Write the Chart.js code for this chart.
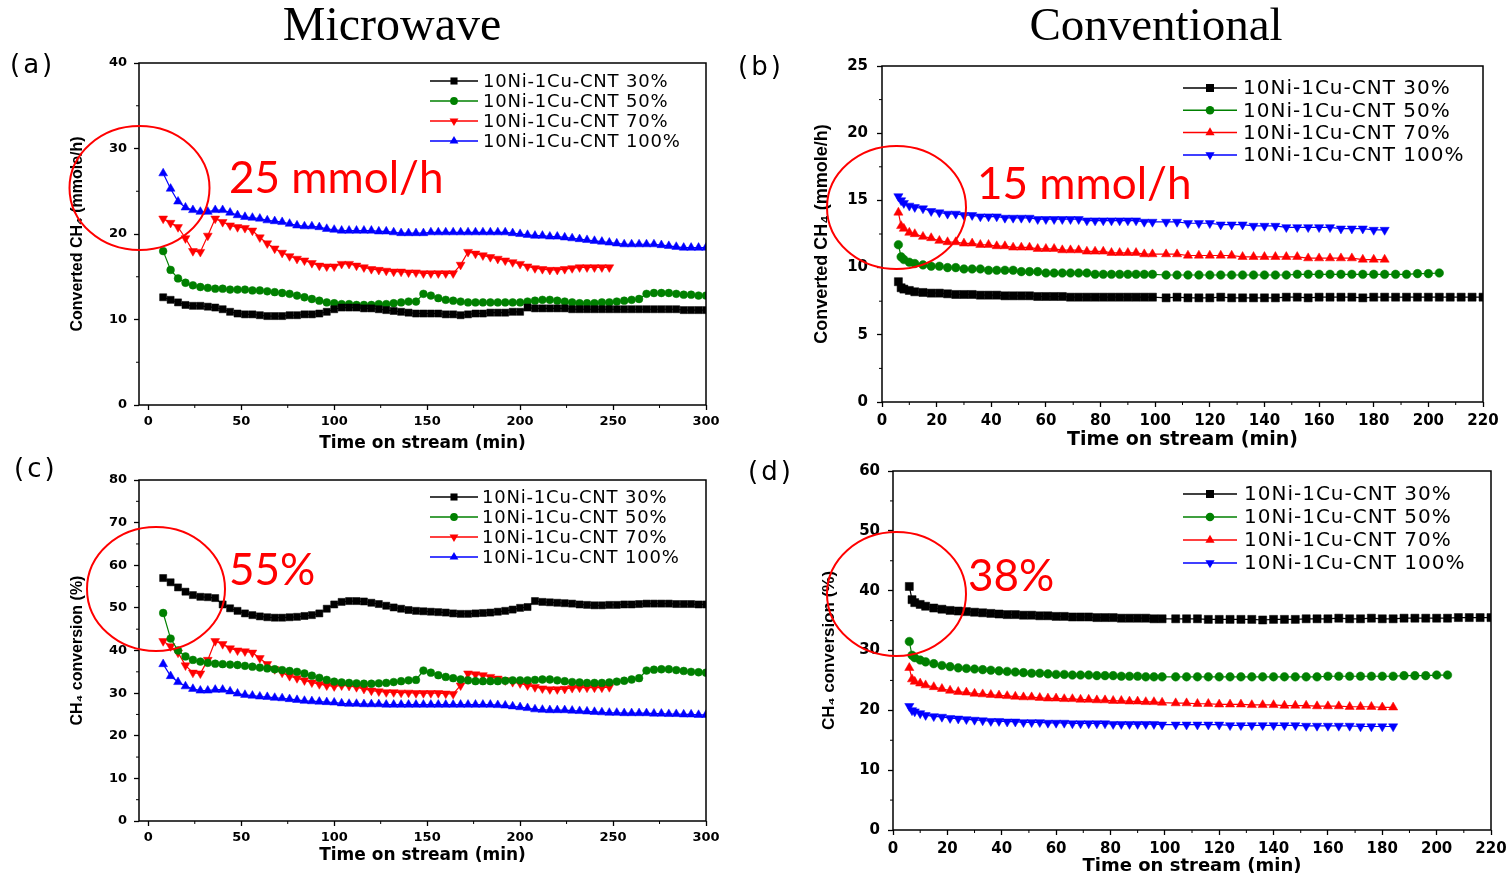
<!DOCTYPE html>
<html>
<head>
<meta charset="utf-8">
<title>CH4 conversion — microwave vs conventional</title>
<script src="https://cdn.jsdelivr.net/npm/chart.js@4.4.1/dist/chart.umd.min.js"></script>
<style>
  html, body { margin: 0; padding: 0; background: #fff; overflow: hidden; }
  #page { position: relative; width: 1506px; height: 878px; overflow: hidden; }
  canvas { position: absolute; }
  #overlay { position: absolute; left: 0; top: 0; pointer-events: none; }
</style>
</head>
<body>
<div id="page">
  <canvas id="chartA"></canvas>
  <canvas id="chartB"></canvas>
  <canvas id="chartC"></canvas>
  <canvas id="chartD"></canvas>
  <svg id="overlay" width="1506" height="878" xmlns="http://www.w3.org/2000/svg">
    <text x="392" y="40" font-family="Liberation Serif" font-size="48" text-anchor="middle">Microwave</text>
    <text x="1156" y="40" font-family="Liberation Serif" font-size="47" text-anchor="middle">Conventional</text>
    <text x="10" y="73" font-family="DejaVu Sans" font-size="26" letter-spacing="3">(a)</text>
    <text x="738" y="75" font-family="DejaVu Sans" font-size="26" letter-spacing="3">(b)</text>
    <text x="14" y="477" font-family="DejaVu Sans" font-size="26" letter-spacing="3">(c)</text>
    <text x="748" y="480" font-family="DejaVu Sans" font-size="26" letter-spacing="3">(d)</text>
    <g fill="none" stroke="#ff0000" stroke-width="2">
      <ellipse cx="139.5" cy="188" rx="70" ry="62"/>
      <ellipse cx="896.5" cy="207.5" rx="69.5" ry="61.5"/>
      <ellipse cx="156" cy="589" rx="69" ry="62"/>
      <ellipse cx="896.5" cy="594" rx="69.5" ry="62"/>
    </g>
    <g fill="#ff0000" font-family="Lato" font-size="44">
      <text x="229" y="193">25 mmol/h</text>
      <text x="977" y="199">15 mmol/h</text>
      <text x="229" y="585">55%</text>
      <text x="968" y="591">38%</text>
    </g>
  </svg>
</div>
<script>
// ===== DATA =====
const seriesLabels = ['10Ni-1Cu-CNT 30%', '10Ni-1Cu-CNT 50%', '10Ni-1Cu-CNT 70%', '10Ni-1Cu-CNT 100%'];

const mwXTicks = [0, 50, 100, 150, 200, 250, 300];
const convXTicks = [0, 20, 40, 60, 80, 100, 120, 140, 160, 180, 200, 220];
const yTicksA = [0, 10, 20, 30, 40];
const yTicksB = [0, 5, 10, 15, 20, 25];
const yTicksC = [0, 10, 20, 30, 40, 50, 60, 70, 80];
const yTicksD = [0, 10, 20, 30, 40, 50, 60];

// microwave sampling times (min)
const mwTime = [8, 12, 16, 20, 24, 28, 32, 36, 40, 44,
  48, 52, 56, 60, 64, 68, 72, 76, 80, 84,
  88, 92, 96, 100, 104, 108, 112, 116, 120, 124,
  128, 132, 136, 140, 144, 148, 152, 156, 160, 164,
  168, 172, 176, 180, 184, 188, 192, 196, 200, 204,
  208, 212, 216, 220, 224, 228, 232, 236, 240, 244,
  248, 252, 256, 260, 264, 268, 272, 276, 280, 284,
  288, 292, 296, 300];

// conventional sampling times (min)
const convTime = [6, 7, 8, 10, 12, 15, 18, 21, 24, 27,
  30, 33, 36, 39, 42, 45, 48, 51, 54, 57,
  60, 63, 66, 69, 72, 75, 78, 81, 84, 87,
  90, 93, 96, 99, 104, 108, 112, 116, 120, 124,
  128, 132, 136, 140, 144, 148, 152, 156, 160, 164,
  168, 172, 176, 180, 184, 188, 192, 196, 200, 204,
  208, 212, 216, 220];

// (a) microwave, converted CH4 (mmole/h)
const aBlack = [12.6, 12.3, 12.0, 11.7, 11.6, 11.6, 11.5, 11.4, 11.2, 10.9,
  10.7, 10.6, 10.6, 10.5, 10.4, 10.4, 10.4, 10.5, 10.5, 10.6,
  10.6, 10.7, 10.9, 11.2, 11.4, 11.4, 11.4, 11.3, 11.3, 11.2,
  11.1, 11.0, 10.9, 10.8, 10.7, 10.7, 10.7, 10.7, 10.6, 10.6,
  10.5, 10.6, 10.7, 10.7, 10.8, 10.8, 10.8, 10.9, 10.9, 11.4,
  11.3, 11.3, 11.3, 11.3, 11.3, 11.2, 11.2, 11.2, 11.2, 11.2,
  11.2, 11.2, 11.2, 11.2, 11.2, 11.2, 11.2, 11.2, 11.2, 11.2,
  11.1, 11.1, 11.1, 11.1];
const aGreen = [18.0, 15.8, 14.8, 14.3, 14.0, 13.8, 13.7, 13.6, 13.6, 13.5,
  13.5, 13.5, 13.4, 13.4, 13.3, 13.2, 13.1, 13.0, 12.8, 12.6,
  12.4, 12.2, 12.0, 11.9, 11.8, 11.8, 11.7, 11.7, 11.7, 11.8,
  11.8, 11.9, 12.0, 12.1, 12.1, 13.0, 12.8, 12.5, 12.3, 12.2,
  12.1, 12.0, 12.0, 12.0, 12.0, 12.0, 12.0, 12.0, 12.0, 12.1,
  12.2, 12.3, 12.3, 12.2, 12.1, 12.0, 11.9, 11.9, 11.9, 12.0,
  12.0, 12.1, 12.2, 12.3, 12.4, 13.0, 13.1, 13.1, 13.1, 13.0,
  12.9, 12.9, 12.8, 12.8];
const aRed = [21.8, 21.3, 20.8, 19.5, 18.0, 17.9, 19.8, 21.8, 21.4, 21.0,
  20.8, 20.7, 20.4, 19.6, 18.9, 18.3, 17.8, 17.4, 17.1, 16.9,
  16.6, 16.3, 16.2, 16.2, 16.5, 16.5, 16.3, 16.1, 15.9, 15.8,
  15.7, 15.6, 15.6, 15.5, 15.5, 15.4, 15.4, 15.4, 15.4, 15.4,
  16.4, 17.9, 17.7, 17.5, 17.3, 17.1, 16.9, 16.7, 16.5, 16.2,
  16.0, 15.9, 15.8, 15.8, 15.9, 16.0, 16.1, 16.1, 16.1, 16.1,
  16.1];
const aBlue = [27.1, 25.3, 23.8, 23.1, 22.8, 22.6, 22.6, 22.8, 22.8, 22.5,
  22.2, 22.0, 21.9, 21.8, 21.6, 21.5, 21.4, 21.2, 21.0, 20.9,
  20.9, 20.8, 20.6, 20.5, 20.4, 20.4, 20.4, 20.4, 20.4, 20.3,
  20.3, 20.2, 20.1, 20.1, 20.1, 20.1, 20.2, 20.2, 20.2, 20.2,
  20.2, 20.2, 20.2, 20.2, 20.2, 20.2, 20.2, 20.1, 20.0, 19.9,
  19.8, 19.8, 19.7, 19.7, 19.6, 19.5, 19.4, 19.3, 19.2, 19.1,
  19.0, 18.9, 18.8, 18.8, 18.8, 18.8, 18.8, 18.7, 18.6, 18.5,
  18.4, 18.4, 18.4, 18.4];

// (b) conventional, converted CH4 (mmole/h)
const bBlack = [8.95, 8.5, 8.4, 8.3, 8.2, 8.15, 8.1, 8.1, 8.05, 8.0,
  8.0, 8.0, 7.95, 7.95, 7.95, 7.9, 7.9, 7.9, 7.9, 7.85,
  7.85, 7.85, 7.85, 7.8, 7.8, 7.8, 7.8, 7.8, 7.8, 7.8,
  7.8, 7.8, 7.8, 7.8, 7.75, 7.8, 7.75, 7.75, 7.75, 7.8,
  7.75, 7.75, 7.75, 7.75, 7.75, 7.8, 7.8, 7.75, 7.8, 7.8,
  7.8, 7.8, 7.75, 7.8, 7.8, 7.8, 7.8, 7.8, 7.8, 7.8,
  7.8, 7.8, 7.8, 7.8];
const bGreen = [11.7, 10.8, 10.6, 10.4, 10.3, 10.2, 10.1, 10.1, 10.0, 10.0,
  9.9, 9.9, 9.9, 9.8, 9.8, 9.8, 9.8, 9.7, 9.7, 9.7,
  9.6, 9.6, 9.6, 9.6, 9.6, 9.6, 9.5, 9.5, 9.5, 9.5,
  9.5, 9.5, 9.5, 9.5, 9.45, 9.45, 9.45, 9.45, 9.45, 9.45,
  9.45, 9.45, 9.45, 9.45, 9.45, 9.45, 9.5, 9.5, 9.5, 9.5,
  9.5, 9.5, 9.5, 9.5, 9.5, 9.5, 9.5, 9.55, 9.55, 9.6];
const bRed = [14.1, 13.1, 12.9, 12.6, 12.5, 12.3, 12.2, 12.0, 11.9, 11.9,
  11.8, 11.8, 11.7, 11.7, 11.6, 11.6, 11.5, 11.5, 11.5, 11.4,
  11.4, 11.4, 11.3, 11.3, 11.3, 11.2, 11.2, 11.2, 11.1, 11.1,
  11.1, 11.1, 11.0, 11.0, 11.0, 11.0, 10.9, 10.9, 10.9, 10.9,
  10.9, 10.8, 10.8, 10.8, 10.8, 10.8, 10.8, 10.7, 10.7, 10.7,
  10.7, 10.7, 10.6, 10.6, 10.6];
const bBlue = [15.3, 15.0, 14.8, 14.6, 14.5, 14.4, 14.2, 14.1, 14.0, 14.0,
  13.9, 13.9, 13.8, 13.8, 13.8, 13.7, 13.7, 13.7, 13.7, 13.6,
  13.6, 13.6, 13.6, 13.6, 13.6, 13.5, 13.5, 13.5, 13.5, 13.5,
  13.5, 13.5, 13.4, 13.4, 13.4, 13.4, 13.3, 13.3, 13.3, 13.2,
  13.2, 13.2, 13.1, 13.1, 13.1, 13.0, 13.0, 13.0, 13.0, 13.0,
  12.9, 12.9, 12.9, 12.8, 12.8];

// (c) microwave, CH4 conversion (%)
const cBlack = [57.0, 56.0, 54.8, 53.8, 53.0, 52.6, 52.5, 52.3, 50.8, 49.9,
  49.3, 48.7, 48.3, 48.0, 47.8, 47.7, 47.7, 47.8, 47.9, 48.1,
  48.3, 48.7, 49.8, 50.8, 51.4, 51.6, 51.6, 51.5, 51.2, 50.9,
  50.5, 50.1, 49.8, 49.5, 49.3, 49.2, 49.1, 49.0, 48.9, 48.7,
  48.6, 48.6, 48.7, 48.8, 48.9, 49.1, 49.3, 49.6, 50.0, 50.2,
  51.6, 51.4, 51.3, 51.2, 51.1, 51.0, 50.8, 50.7, 50.6, 50.6,
  50.7, 50.7, 50.8, 50.8, 50.9, 51.0, 51.0, 51.0, 51.0, 50.9,
  50.9, 50.9, 50.8, 50.8];
const cGreen = [48.8, 42.8, 40.0, 38.6, 37.8, 37.4, 37.1, 36.9, 36.8, 36.7,
  36.6, 36.4, 36.2, 36.0, 35.8, 35.6, 35.4, 35.2, 35.0, 34.6,
  34.1, 33.6, 33.1, 32.7, 32.5, 32.4, 32.3, 32.2, 32.2, 32.3,
  32.4, 32.6, 32.8, 33.0, 33.1, 35.3, 34.8, 34.2, 33.8, 33.5,
  33.2, 33.0, 32.8, 32.8, 32.8, 32.8, 32.9, 33.0, 33.0, 33.0,
  33.1, 33.2, 33.2, 33.0, 32.8, 32.6, 32.5, 32.4, 32.4, 32.4,
  32.5, 32.7, 32.9, 33.2, 33.5, 35.3, 35.5, 35.6, 35.6, 35.4,
  35.2, 35.0, 34.9, 34.8];
const cRed = [42.2, 41.0, 39.5, 36.5, 34.8, 34.6, 37.8, 42.2, 41.5, 40.5,
  40.0, 39.8, 39.5, 38.2, 36.8, 35.6, 34.8, 34.0, 33.5, 33.0,
  32.5, 32.1, 31.8, 31.6, 31.8, 31.7, 31.4, 31.0, 30.6, 30.4,
  30.2, 30.2, 30.1, 30.1, 30.0, 30.0, 30.0, 30.0, 29.9, 29.8,
  31.8, 34.6, 34.4, 34.2, 33.8, 33.4, 33.0, 32.6, 32.3, 31.8,
  31.4, 31.1, 30.9, 30.9, 31.0, 31.2, 31.3, 31.3, 31.3, 31.3,
  31.4];
const cBlue = [36.8, 34.0, 32.6, 31.6, 31.0, 30.6, 30.6, 30.8, 30.8, 30.4,
  29.9, 29.6, 29.4, 29.2, 29.1, 28.9, 28.8, 28.6, 28.4, 28.2,
  28.1, 28.0, 27.9, 27.8, 27.6, 27.5, 27.5, 27.4, 27.4, 27.4,
  27.3, 27.3, 27.3, 27.3, 27.3, 27.3, 27.3, 27.3, 27.3, 27.3,
  27.3, 27.3, 27.3, 27.3, 27.3, 27.2, 27.1, 26.9, 26.7, 26.5,
  26.2, 26.1, 26.0, 26.0, 26.0, 25.9, 25.8, 25.7, 25.6, 25.5,
  25.4, 25.4, 25.3, 25.3, 25.3, 25.3, 25.2, 25.2, 25.1, 25.1,
  25.0, 25.0, 24.9, 24.9];

// (d) conventional, CH4 conversion (%)
const dBlack = [40.7, 38.5, 38.0, 37.7, 37.4, 37.1, 36.9, 36.7, 36.6, 36.5,
  36.4, 36.3, 36.2, 36.1, 36.0, 36.0, 35.9, 35.9, 35.8, 35.8,
  35.7, 35.7, 35.6, 35.6, 35.6, 35.5, 35.5, 35.5, 35.4, 35.4,
  35.4, 35.4, 35.3, 35.3, 35.3, 35.3, 35.3, 35.2, 35.2, 35.2,
  35.2, 35.2, 35.1, 35.2, 35.2, 35.2, 35.3, 35.3, 35.3, 35.4,
  35.3, 35.3, 35.4, 35.3, 35.3, 35.4, 35.4, 35.4, 35.4, 35.4,
  35.5, 35.5, 35.5, 35.5];
const dGreen = [31.5, 29.2, 28.8, 28.4, 28.1, 27.8, 27.5, 27.3, 27.1, 27.0,
  26.9, 26.8, 26.7, 26.6, 26.5, 26.4, 26.3, 26.2, 26.2, 26.1,
  26.0, 26.0, 25.9, 25.9, 25.9, 25.8, 25.8, 25.8, 25.7, 25.7,
  25.7, 25.6, 25.6, 25.6, 25.6, 25.6, 25.6, 25.6, 25.6, 25.6,
  25.6, 25.6, 25.6, 25.6, 25.6, 25.6, 25.6, 25.6, 25.7, 25.7,
  25.7, 25.7, 25.7, 25.7, 25.7, 25.8, 25.8, 25.8, 25.9, 25.9];
const dRed = [27.1, 25.2, 24.8, 24.5, 24.2, 23.9, 23.6, 23.3, 23.1, 23.0,
  22.8, 22.7, 22.6, 22.5, 22.4, 22.3, 22.2, 22.2, 22.1, 22.0,
  22.0, 21.9, 21.9, 21.8, 21.8, 21.7, 21.7, 21.6, 21.6, 21.5,
  21.5, 21.4, 21.4, 21.3, 21.2, 21.2, 21.1, 21.1, 21.0, 21.0,
  21.0, 20.9, 20.9, 20.9, 20.8, 20.8, 20.8, 20.7, 20.7, 20.7,
  20.6, 20.6, 20.6, 20.5, 20.5];
const dBlue = [20.7, 20.0, 19.8, 19.5, 19.2, 19.0, 18.9, 18.7, 18.6, 18.5,
  18.4, 18.3, 18.2, 18.2, 18.1, 18.1, 18.0, 18.0, 18.0, 17.9,
  17.9, 17.9, 17.8, 17.8, 17.8, 17.8, 17.8, 17.7, 17.7, 17.7,
  17.7, 17.7, 17.7, 17.6, 17.6, 17.6, 17.6, 17.6, 17.6, 17.5,
  17.5, 17.5, 17.5, 17.5, 17.5, 17.5, 17.4, 17.4, 17.4, 17.4,
  17.4, 17.3, 17.3, 17.3, 17.3];

const COLORS = ['#000000', '#008000', '#ff0000', '#0000ff'];

// ===== HELPERS =====

function series(times, values, i, marker) {
  return {
    label: seriesLabels[i],
    data: values.map((v, k) => ({ x: times[k], y: v })),
    borderColor: COLORS[i],
    backgroundColor: COLORS[i],
    pointBackgroundColor: COLORS[i],
    pointBorderColor: COLORS[i],
    pointStyle: marker.style,
    pointRotation: marker.rot,
    pointRadius: marker.r,
    pointBorderWidth: 0.5,
    borderWidth: 1.2,
    tension: 0,
    fill: false
  };
}

// same geometry as Chart.js point styles, used for the legend keys
function drawMarker(ctx, style, rot, r, x, y) {
  ctx.beginPath();
  if (style === 'rect') {
    const s = r * Math.SQRT1_2;
    ctx.rect(x - s, y - s, 2 * s, 2 * s);
  } else if (style === 'circle') {
    ctx.arc(x, y, r, 0, Math.PI * 2);
  } else {
    let rad = (rot || 0) * Math.PI / 180;
    ctx.moveTo(x + Math.sin(rad) * r, y - Math.cos(rad) * r);
    rad += 2 * Math.PI / 3;
    ctx.lineTo(x + Math.sin(rad) * r, y - Math.cos(rad) * r);
    rad += 2 * Math.PI / 3;
    ctx.lineTo(x + Math.sin(rad) * r, y - Math.cos(rad) * r);
    ctx.closePath();
  }
  ctx.fill();
}

function midpoints(ticks) {
  const out = [];
  for (let i = 0; i < ticks.length - 1; i++) out.push((ticks[i] + ticks[i + 1]) / 2);
  return out;
}

/**
 * Frame around the plot, minor ticks and the in-plot legend.
 */
function decorPlugin(p) {
  return {
    id: 'decor',
    afterDraw(chart) {
      const { ctx, chartArea: a, scales } = chart;
      ctx.save();
      ctx.strokeStyle = '#000';
      ctx.lineWidth = 1.5;
      ctx.strokeRect(a.left, a.top, a.right - a.left, a.bottom - a.top);

      ctx.lineWidth = 1;
      ctx.beginPath();
      midpoints(p.xTicks).forEach(v => {
        const px = scales.x.getPixelForValue(v);
        ctx.moveTo(px, a.bottom);
        ctx.lineTo(px, a.bottom + 3);
      });
      midpoints(p.yTicks).forEach(v => {
        const py = scales.y.getPixelForValue(v);
        ctx.moveTo(a.left - 3, py);
        ctx.lineTo(a.left, py);
      });
      ctx.stroke();

      // legend
      const lg = p.legend;
      chart.data.datasets.forEach((ds, i) => {
        const y = a.top + lg.top + i * lg.dy;
        const x0 = a.left + lg.left;
        ctx.strokeStyle = ds.borderColor;
        ctx.lineWidth = 1.5;
        ctx.beginPath();
        ctx.moveTo(x0, y);
        ctx.lineTo(x0 + lg.len, y);
        ctx.stroke();
        ctx.fillStyle = ds.borderColor;
        drawMarker(ctx, ds.pointStyle, ds.pointRotation, ds.pointRadius, x0 + lg.len / 2, y);

        ctx.fillStyle = '#000';
        ctx.font = lg.size + 'px "DejaVu Sans"';
        if ('letterSpacing' in ctx) ctx.letterSpacing = lg.ls + 'px';
        ctx.textBaseline = 'middle';
        ctx.textAlign = 'left';
        ctx.fillText(ds.label, x0 + lg.len + lg.gap, y + 1);
        if ('letterSpacing' in ctx) ctx.letterSpacing = '0px';
      });
      ctx.restore();
    }
  };
}

function makePanel(canvasId, p) {
  const canvas = document.getElementById(canvasId);
  const b = p.box;
  const yW = 90;
  const left = b.L - yW, top = b.T - 15;
  const right = b.R + 15, bottom = p.xTitleY + 14;
  const w = right - left, h = bottom - top;
  canvas.width = w;
  canvas.height = h;
  canvas.style.left = left + 'px';
  canvas.style.top = top + 'px';
  canvas.style.width = w + 'px';
  canvas.style.height = h + 'px';

  const xH = bottom - b.B;
  const yTitlePad = p.yTitleX - left - p.yTitleSize * 0.6;
  const xTitlePad = 14 - p.xTitleSize * 0.6;
  const tickFont = { family: 'DejaVu Sans', weight: 'bold', size: p.tickSize };

  return new Chart(canvas, {
    type: 'line',
    data: { datasets: p.datasets },
    options: {
      responsive: false,
      animation: false,
      devicePixelRatio: 1,
      layout: { padding: { top: 15, right: 15, left: 0, bottom: 0 } },
      plugins: { legend: { display: false }, tooltip: { enabled: false } },
      scales: {
        x: {
          type: 'linear',
          min: p.xMin,
          max: p.xMax,
          afterBuildTicks: s => { s.ticks = p.xTicks.map(v => ({ value: v })); },
          afterFit: s => { s.height = xH; s.paddingLeft = 0; s.paddingRight = 0; },
          border: { display: false },
          grid: { drawOnChartArea: false, drawTicks: true, tickLength: 5, tickWidth: 1.3, tickColor: '#000' },
          ticks: { color: '#000', font: tickFont, padding: p.xTickPad, maxRotation: 0, autoSkip: false },
          title: {
            display: true,
            text: 'Time on stream (min)',
            color: '#000',
            font: { family: 'DejaVu Sans', weight: 'bold', size: p.xTitleSize },
            padding: { top: 0, bottom: xTitlePad }
          }
        },
        y: {
          type: 'linear',
          min: 0,
          max: p.yTicks[p.yTicks.length - 1],
          afterBuildTicks: s => { s.ticks = p.yTicks.map(v => ({ value: v })); },
          afterFit: s => { s.width = yW; },
          border: { display: false },
          grid: { drawOnChartArea: false, drawTicks: true, tickLength: 5, tickWidth: 1.3, tickColor: '#000' },
          ticks: { color: '#000', font: tickFont, padding: p.yTickPad },
          title: {
            display: true,
            text: p.yTitle,
            color: '#000',
            font: { family: 'Liberation Sans', weight: 'bold', size: p.yTitleSize },
            padding: { top: yTitlePad, bottom: 0 }
          }
        }
      }
    },
    plugins: [decorPlugin(p)]
  });
}

// marker sets
const mwMarkers = [
  { style: 'rect', rot: 0, r: 5.0 },
  { style: 'circle', rot: 0, r: 3.9 },
  { style: 'triangle', rot: 180, r: 5.1 },
  { style: 'triangle', rot: 0, r: 5.1 }
];
const convMarkers = [
  { style: 'rect', rot: 0, r: 5.7 },
  { style: 'circle', rot: 0, r: 4.3 },
  { style: 'triangle', rot: 0, r: 5.3 },
  { style: 'triangle', rot: 180, r: 5.3 }
];

const mwLegend = { left: 291, top: 18, dy: 20, len: 48, gap: 5, size: 18, ls: 0.8 };
const convLegend = { left: 301, top: 22, dy: 22.3, len: 54, gap: 6, size: 20, ls: 1 };

makePanel('chartA', {
  box: { L: 139, T: 63, R: 706, B: 405 },
  xMin: -5, xMax: 300, xTicks: mwXTicks, yTicks: yTicksA,
  yTitle: 'Converted CH\u2084 (mmole/h)', yTitleX: 78, yTitleSize: 16,
  xTitleY: 444, xTitleSize: 17, tickSize: 13, xTickPad: 4, yTickPad: 7,
  legend: mwLegend,
  datasets: [
    series(mwTime, aBlack, 0, mwMarkers[0]),
    series(mwTime, aGreen, 1, mwMarkers[1]),
    series(mwTime, aRed, 2, mwMarkers[2]),
    series(mwTime, aBlue, 3, mwMarkers[3])
  ]
});

makePanel('chartB', {
  box: { L: 882, T: 63, R: 1483, B: 402 },
  xMin: 0, xMax: 220, xTicks: convXTicks, yTicks: yTicksB,
  yTitle: 'Converted CH\u2084 (mmole/h)', yTitleX: 822, yTitleSize: 18,
  xTitleY: 440, xTitleSize: 19, tickSize: 15, xTickPad: 5, yTickPad: 9,
  legend: convLegend,
  datasets: [
    series(convTime, bBlack, 0, convMarkers[0]),
    series(convTime, bGreen, 1, convMarkers[1]),
    series(convTime, bRed, 2, convMarkers[2]),
    series(convTime, bBlue, 3, convMarkers[3])
  ]
});

makePanel('chartC', {
  box: { L: 139, T: 480, R: 706, B: 821 },
  xMin: -5, xMax: 300, xTicks: mwXTicks, yTicks: yTicksC,
  yTitle: 'CH\u2084 conversion (%)', yTitleX: 78, yTitleSize: 16,
  xTitleY: 856, xTitleSize: 17, tickSize: 13, xTickPad: 4, yTickPad: 7,
  legend: Object.assign({}, mwLegend, { top: 17, gap: 4 }),
  datasets: [
    series(mwTime, cBlack, 0, mwMarkers[0]),
    series(mwTime, cGreen, 1, mwMarkers[1]),
    series(mwTime, cRed, 2, mwMarkers[2]),
    series(mwTime, cBlue, 3, mwMarkers[3])
  ]
});

makePanel('chartD', {
  box: { L: 893, T: 469, R: 1491, B: 830 },
  xMin: 0, xMax: 220, xTicks: convXTicks, yTicks: yTicksD,
  yTitle: 'CH\u2084 conversion (%)', yTitleX: 829, yTitleSize: 17,
  xTitleY: 866, xTitleSize: 18, tickSize: 15, xTickPad: 5, yTickPad: 8,
  legend: Object.assign({}, convLegend, { left: 290, top: 23, dy: 23, gap: 7 }),
  datasets: [
    series(convTime, dBlack, 0, convMarkers[0]),
    series(convTime, dGreen, 1, convMarkers[1]),
    series(convTime, dRed, 2, convMarkers[2]),
    series(convTime, dBlue, 3, convMarkers[3])
  ]
});
</script>
</body>
</html>
